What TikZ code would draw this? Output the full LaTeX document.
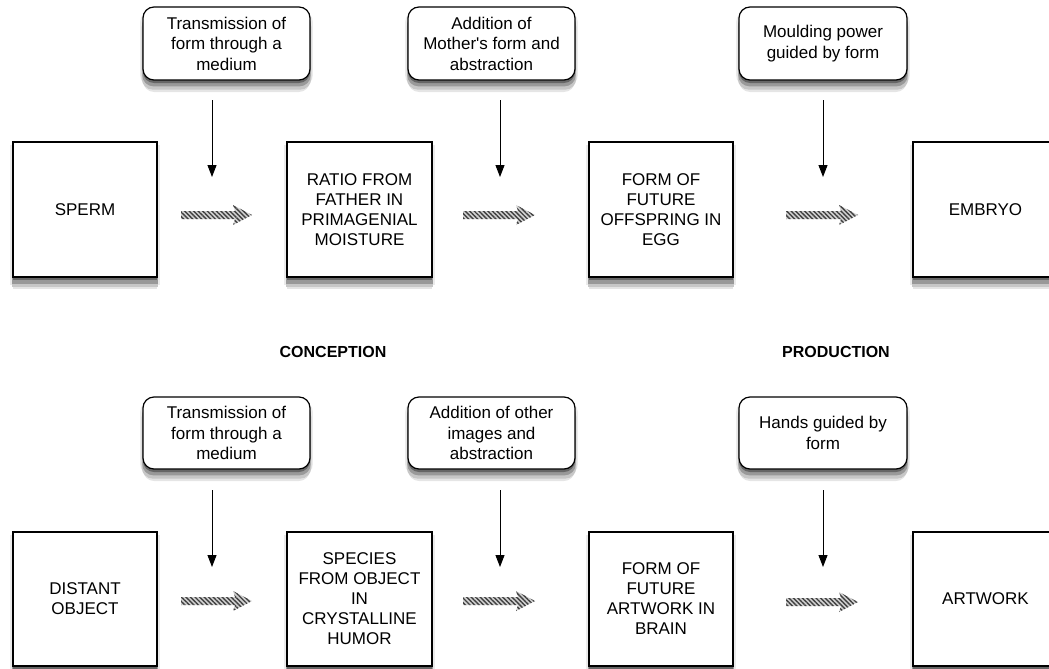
\documentclass[tikz,border=0pt]{standalone}
\usepackage{fontspec}
\setmainfont{Liberation Sans}
\usetikzlibrary{shadows,patterns.meta,arrows.meta,calc}
\newcommand{\flowarr}[2]{%
  \path[flow] ($(#1)+(0,-4)$) -- ($(#2)+(-17,-4)$) -- ($(#2)+(-19,-10)$) -- (#2)
     -- ($(#2)+(-19,10)$) -- ($(#2)+(-17,4)$) -- ($(#1)+(0,4)$) -- cycle;}
\begin{document}
\begin{tikzpicture}[x=1pt,y=-1pt,
  softshadow/.style={
     drop shadow={shadow xshift=0pt,shadow yshift=-5pt,shadow scale=1.035,opacity=1,fill=black!8},
     drop shadow={shadow xshift=0pt,shadow yshift=-12pt,opacity=1,fill=black!10},
     drop shadow={shadow xshift=0pt,shadow yshift=-9pt,shadow scale=1.015,opacity=1,fill=black!22},
     drop shadow={shadow xshift=0pt,shadow yshift=-6pt,shadow scale=1.008,opacity=1,fill=black!40},
     drop shadow={shadow xshift=0pt,shadow yshift=-3pt,opacity=1,fill=black!60}},
  stage/.style={draw=black, line width=1.2pt, fill=white, softshadow, align=center,
     inner sep=0pt, font=\fontsize{17}{20}\selectfont, minimum height=135pt},
  note/.style={draw=black, line width=1.2pt, fill=white, rounded corners=11pt, softshadow,
     align=center, font=\fontsize{17}{20.5}\selectfont, minimum height=73pt, inner sep=0pt},
  input/.style={-{Triangle[length=12pt,width=9pt]}, line width=1pt},
  flow/.style={preaction={fill=gray!35}, pattern={Lines[angle=-45,distance=3.2pt,line width=1.4pt]},
     pattern color=black!75},
  heading/.style={font=\bfseries\fontsize{16}{19}\selectfont}
]
\useasboundingbox (0,0) rectangle (1049,669);

% ---------- top row ----------
\node[note, minimum width=167pt] (c1) at (226.5,43.5) {Transmission of\\form through a\\medium};
\node[note, minimum width=167pt] (c2) at (491.5,43.5) {Addition of\\Mother\textquotesingle s form and\\abstraction};
\node[note, minimum width=168pt] (c3) at (823,43.5) {Moulding power\\guided by form};

\node[stage, minimum width=144pt] (b1) at (85,209.5) {SPERM};
\node[stage, minimum width=145pt] (b2) at (359.5,209.5) {RATIO FROM\\FATHER IN\\PRIMAGENIAL\\MOISTURE};
\node[stage, minimum width=144pt] (b3) at (661,209.5) {FORM OF\\FUTURE\\OFFSPRING IN\\EGG};
\node[stage, minimum width=145pt] (b4) at (985.5,209.5) {EMBRYO};

\coordinate (v1s) at (212,100); \coordinate (v1e) at (212,177);
\coordinate (v2s) at (500,100); \coordinate (v2e) at (500,177);
\coordinate (v3s) at (823,100); \coordinate (v3e) at (823,177);
\draw[input] (v1s) -- (v1e);
\draw[input] (v2s) -- (v2e);
\draw[input] (v3s) -- (v3e);

\coordinate (f1s) at (181,215); \coordinate (f1e) at (252,215);
\coordinate (f2s) at (463,215); \coordinate (f2e) at (535,215);
\coordinate (f3s) at (786,215); \coordinate (f3e) at (858,215);
\flowarr{f1s}{f1e}
\flowarr{f2s}{f2e}
\flowarr{f3s}{f3e}

% ---------- headings ----------
\node[heading] (conc) at (333,352) {CONCEPTION};
\node[heading] (prod) at (836,352) {PRODUCTION};

% ---------- bottom row ----------
\node[note, minimum width=167pt, minimum height=72pt] (d1) at (226.5,433) {Transmission of\\form through a\\medium};
\node[note, minimum width=167pt, minimum height=72pt] (d2) at (491.5,433) {Addition of other\\images and\\abstraction};
\node[note, minimum width=168pt, minimum height=72pt] (d3) at (823,433) {Hands guided by\\form};

\node[stage, minimum width=144pt, minimum height=134pt] (e1) at (85,599) {DISTANT\\OBJECT};
\node[stage, minimum width=145pt, minimum height=134pt] (e2) at (359.5,599) {SPECIES\\FROM OBJECT\\IN\\CRYSTALLINE\\HUMOR};
\node[stage, minimum width=144pt, minimum height=134pt] (e3) at (661,599) {FORM OF\\FUTURE\\ARTWORK IN\\BRAIN};
\node[stage, minimum width=145pt, minimum height=134pt] (e4) at (985.5,599) {ARTWORK};

\coordinate (w1s) at (212,490); \coordinate (w1e) at (212,567);
\coordinate (w2s) at (500,490); \coordinate (w2e) at (500,567);
\coordinate (w3s) at (823,490); \coordinate (w3e) at (823,567);
\draw[input] (w1s) -- (w1e);
\draw[input] (w2s) -- (w2e);
\draw[input] (w3s) -- (w3e);

\coordinate (g1s) at (181,601); \coordinate (g1e) at (252,601);
\coordinate (g2s) at (463,601); \coordinate (g2e) at (535,601);
\coordinate (g3s) at (786,602); \coordinate (g3e) at (858,602);
\flowarr{g1s}{g1e}
\flowarr{g2s}{g2e}
\flowarr{g3s}{g3e}
\end{tikzpicture}
\end{document}
